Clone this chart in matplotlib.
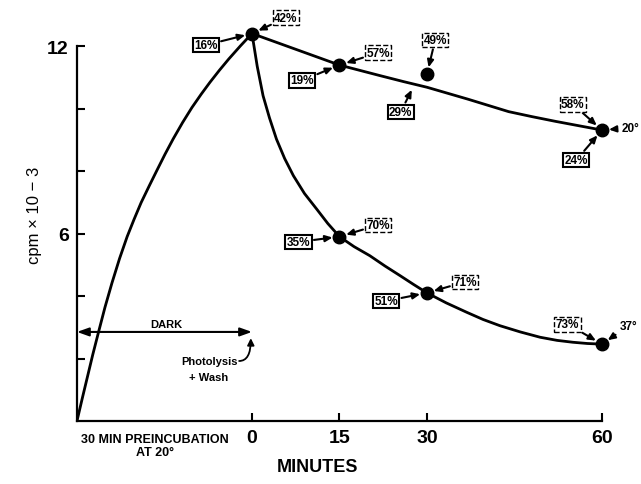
import matplotlib.pyplot as plt

plt.rcParams['font.family'] = ['Liberation Sans', 'DejaVu Sans']

# preincubation (dark) curve, minutes before photolysis
pre_x = [-30, -29.1, -28.2, -27.3, -26.3, -25.2, -24, -22.7, -21.4, -20.2, -19,
         -17.6, -16.3, -14.9, -13.5, -11.9, -10.3, -8.7, -7.2, -5.6, -4, -2, 0]
pre_y = [0, 0.72, 1.42, 2.12, 2.85, 3.64, 4.42, 5.2, 5.9, 6.46, 6.99,
         7.53, 8.02, 8.54, 9.03, 9.55, 10.03, 10.46, 10.84, 11.22, 11.58, 12.0, 12.4]

# 20 degree curve
c20_x = [0, 15, 18.5, 22, 26, 30, 33.5, 37, 40.5, 44, 48, 52, 56, 60]
c20_y = [12.4, 11.39, 11.22, 11.05, 10.86, 10.68, 10.49, 10.3, 10.1, 9.9, 9.74, 9.59, 9.45, 9.31]
dots20_x = [0, 15, 60]
dots20_y = [12.4, 11.39, 9.31]

# 37 degree curve
c37_x = [0, 0.9, 1.9, 3.0, 4.2, 5.6, 7.1, 9.0, 11.1, 13.0, 15, 17.5, 20.2, 22.8,
         25.4, 27.7, 30, 33.3, 36.8, 39.6, 42.5, 46, 49.4, 52.3, 55, 57.5, 60]
c37_y = [12.4, 11.35, 10.41, 9.7, 9.02, 8.4, 7.85, 7.28, 6.78, 6.32, 5.9, 5.58, 5.29, 4.96,
         4.65, 4.37, 4.1, 3.78, 3.48, 3.25, 3.05, 2.85, 2.68, 2.58, 2.52, 2.48, 2.46]
dots37_x = [15, 30, 60]
dots37_y = [5.9, 4.1, 2.46]

# lone point at 30 min
extra_x = [30]
extra_y = [11.1]

# percent labels: text, point, label position, dashed box?
labels = [
    ("16%", (0, 12.4), (-7.9, 12.03), False),
    ("42%", (0, 12.4), (5.8, 12.9), True),
    ("19%", (15, 11.39), (8.6, 10.9), False),
    ("57%", (15, 11.39), (21.6, 11.78), True),
    ("49%", (30, 11.1), (31.4, 12.19), True),
    ("58%", (60, 9.31), (55.0, 10.14), True),
    ("24%", (60, 9.31), (55.6, 8.35), False),
    ("35%", (15, 5.9), (8.0, 5.73), False),
    ("70%", (15, 5.9), (21.6, 6.27), True),
    ("51%", (30, 4.1), (23.0, 3.84), False),
    ("71%", (30, 4.1), (36.5, 4.45), True),
    ("73%", (60, 2.46), (54.1, 3.1), True),
]

fig = plt.figure(figsize=(6.41, 4.85), dpi=100)
ax = fig.add_axes([0.1201, 0.1299, 0.8554, 0.8376])
ax.set_xlim(-30, 64)
ax.set_ylim(0, 13)

lw = 2.0
ax.plot(pre_x, pre_y, color='black', lw=lw, solid_joinstyle='round')
ax.plot(c20_x, c20_y, color='black', lw=lw, solid_joinstyle='round')
ax.plot(c37_x, c37_y, color='black', lw=lw, solid_joinstyle='round')
ax.plot(dots20_x, dots20_y, 'o', color='black', ms=9)
ax.plot(dots37_x, dots37_y, 'o', color='black', ms=9)
ax.plot(extra_x, extra_y, 'o', color='black', ms=9)

arrow = dict(arrowstyle='-|>,head_length=0.5,head_width=0.22', lw=1.5,
             color='black', shrinkA=1, shrinkB=5)


def box(dashed):
    return dict(boxstyle='square,pad=0.12', fc='white', ec='black',
                lw=1.0 if dashed else 1.5, ls='--' if dashed else '-')


for txt, pt, pos, dashed in labels:
    ax.annotate(txt, xy=pt, xytext=pos, ha='center', va='center',
                fontsize=8.5, fontweight='bold', bbox=box(dashed), arrowprops=arrow)

# 29% points at the 20 degree line itself
ax.annotate("29%", xy=(27.4, 10.6), xytext=(25.5, 9.89), ha='center', va='center',
            fontsize=8.5, fontweight='bold', bbox=box(False),
            arrowprops=dict(arrow, shrinkB=0))

# temperature tags
ax.annotate("20°", xy=(60, 9.31), xytext=(63.3, 9.38), ha='left', va='center',
            fontsize=8.5, fontweight='bold', arrowprops=arrow, annotation_clip=False)
ax.annotate("37°", xy=(60, 2.46), xytext=(63.0, 3.04), ha='left', va='center',
            fontsize=8.5, fontweight='bold', arrowprops=arrow, annotation_clip=False)

# DARK double arrow
ax.annotate("", xy=(-30, 2.85), xytext=(0, 2.85),
            arrowprops=dict(arrowstyle='<|-|>,head_length=0.7,head_width=0.25',
                            lw=1.5, color='black', shrinkA=0, shrinkB=0))
ax.text(-14.7, 3.12, "DARK", ha='center', va='center', fontsize=8, fontweight='bold')

# photolysis + wash
ax.text(-7.2, 1.92, "Photolysis", ha='center', va='center', fontsize=8, fontweight='bold')
ax.text(-7.4, 1.42, "+ Wash", ha='center', va='center', fontsize=8, fontweight='bold')
ax.annotate("", xy=(-0.2, 2.65), xytext=(-2.2, 1.92),
            arrowprops=dict(arrowstyle='-|>,head_length=0.4,head_width=0.2', lw=1.3,
                            color='black', shrinkA=0, shrinkB=0,
                            connectionstyle='angle3,angleA=0,angleB=90'))

# axes styling
for s in ['top', 'right']:
    ax.spines[s].set_visible(False)
ax.spines['left'].set_bounds(0, 12)
ax.spines['bottom'].set_bounds(-30, 60)
ax.spines['left'].set_linewidth(1.6)
ax.spines['bottom'].set_linewidth(1.6)

ax.set_yticks([6, 12])
ax.set_yticklabels(["6", "12"], fontsize=14, fontweight='bold')
ax.set_yticks([2, 4, 8, 10], minor=True)
ax.tick_params(axis='y', which='both', direction='in', length=6, width=1.5, pad=6)

ax.set_xticks([0, 15, 30, 60])
ax.set_xticklabels(["0", "15", "30", "60"], fontsize=14, fontweight='bold')
ax.tick_params(axis='x', direction='in', length=6, width=1.5, pad=6)

ax.text(-16.6, -0.4, "30 MIN PREINCUBATION\nAT 20°", ha='center', va='top',
        fontsize=9, fontweight='bold', linespacing=1.1)

fig.text(35 / 641, 1 - 215 / 485, "cpm × 10 − 3", rotation=90, ha='center',
         va='center', fontsize=12)
fig.text(318 / 641, 1 - 468 / 485, "MINUTES", ha='center', va='center',
         fontsize=13, fontweight='bold')

fig.savefig("out.png", dpi=100, facecolor='white')
